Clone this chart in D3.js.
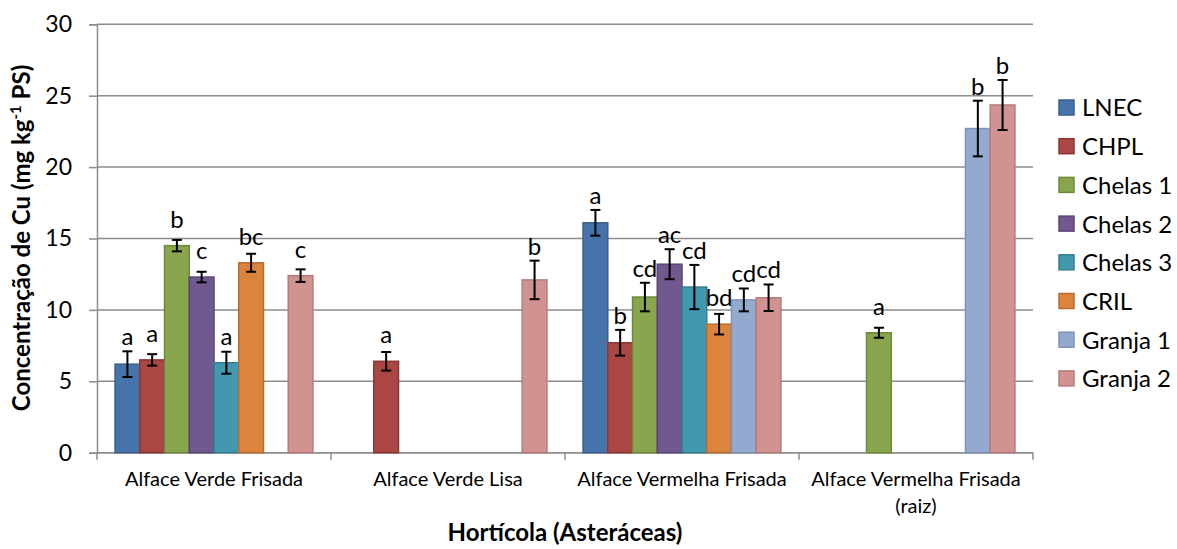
<!DOCTYPE html>
<html>
<head>
<meta charset="utf-8">
<script src="https://cdn.jsdelivr.net/npm/d3@7"></script>
<style>
    body { margin: 0; background: #ffffff; }
    svg { display: block; font-family: Lato, "Noto Sans", sans-serif; }
</style>
</head>
<body>
<div id="chart"></div>
<script>
// Categories (x axis) and series (legend)
const categories = ["Alface Verde Frisada", "Alface Verde Lisa", "Alface Vermelha Frisada", "Alface Vermelha Frisada|(raiz)"];
const seriesNames = ["LNEC", "CHPL", "Chelas 1", "Chelas 2", "Chelas 3", "CRIL", "Granja 1", "Granja 2"];

// Mean values per series (null = no sample)
const valLNEC    = [6.2, null, 16.1, null];
const valCHPL    = [6.5, 6.4, 7.7, null];
const valChelas1 = [14.5, null, 10.9, 8.4];
const valChelas2 = [12.3, null, 13.2, null];
const valChelas3 = [6.3, null, 11.6, null];
const valCRIL    = [13.3, null, 9.0, null];
const valGranja1 = [null, null, 10.7, 22.7];
const valGranja2 = [12.4, 12.1, 10.85, 24.35];

// Standard deviations (error bars)
const errLNEC    = [0.9, null, 0.9, null];
const errCHPL    = [0.4, 0.65, 0.9, null];
const errChelas1 = [0.4, null, 1.0, 0.35];
const errChelas2 = [0.37, null, 1.05, null];
const errChelas3 = [0.77, null, 1.55, null];
const errCRIL    = [0.63, null, 0.72, null];
const errGranja1 = [null, null, 0.8, 1.95];
const errGranja2 = [0.44, 1.35, 0.93, 1.75];

// Significance letters
const letLNEC    = ["a", null, "a", null];
const letCHPL    = ["a", "a", "b", null];
const letChelas1 = ["b", null, "cd", "a"];
const letChelas2 = ["c", null, "ac", null];
const letChelas3 = ["a", null, "cd", null];
const letCRIL    = ["bc", null, "bd", null];
const letGranja1 = [null, null, "cd", "b"];
const letGranja2 = ["c", "b", "cd", "b"];

// Legal limit line
const limitValue = 20;
const yTicks = [0, 5, 10, 15, 20, 25, 30];

const values = [valLNEC, valCHPL, valChelas1, valChelas2, valChelas3, valCRIL, valGranja1, valGranja2];
const errors = [errLNEC, errCHPL, errChelas1, errChelas2, errChelas3, errCRIL, errGranja1, errGranja2];
const letters = [letLNEC, letCHPL, letChelas1, letChelas2, letChelas3, letCRIL, letGranja1, letGranja2];

// Colours (fill, border) per series
const fills   = ["#4674aa", "#aa4643", "#89a54e", "#71588f", "#4198af", "#db843d", "#93a9cf", "#d19392"];
const strokes = ["#3a5f8d", "#8a3734", "#6c8a39", "#5a4573", "#327f93", "#b86c2f", "#7f93b5", "#b47c7b"];

// Flatten to records
const records = [];
seriesNames.forEach((s, si) => {
    categories.forEach((c, ci) => {
        if (values[si][ci] != null) {
            records.push({ series: s, si: si, category: c, value: values[si][ci], err: errors[si][ci], letter: letters[si][ci] });
        }
    });
});

const width = 1177, height = 549;
const margin = { top: 24.3, right: 144, bottom: 96.3, left: 97 };
const innerW = width - margin.left - margin.right;
const innerH = height - margin.top - margin.bottom;

const svg = d3.select("#chart").append("svg")
    .attr("width", width)
    .attr("height", height);

// Shadow for the limit line
const defs = svg.append("defs");
const filter = defs.append("filter").attr("id", "shadow")
    .attr("x", "-5%").attr("y", "-200%").attr("width", "110%").attr("height", "500%");
filter.append("feDropShadow")
    .attr("dx", 1).attr("dy", 3).attr("stdDeviation", 2)
    .attr("flood-color", "#000").attr("flood-opacity", 0.35);

const g = svg.append("g").attr("transform", `translate(${margin.left},${margin.top})`);

// Scales
const x0 = d3.scaleBand().domain(categories).range([0, innerW]).paddingInner(0).paddingOuter(0);
const x1 = d3.scaleBand().domain(seriesNames).range([0, x0.bandwidth()]).paddingInner(0).paddingOuter(0.73);
const y = d3.scaleLinear().domain([0, 30]).range([innerH, 0]);

// Horizontal gridlines
g.append("g")
    .selectAll("line")
    .data(yTicks)
    .enter().append("line")
    .attr("x1", 0).attr("x2", innerW)
    .attr("y1", d => y(d)).attr("y2", d => y(d))
    .attr("stroke", "#8c8c8c")
    .attr("stroke-width", 1.5);

// Y axis
const yAxis = g.append("g")
    .call(d3.axisLeft(y).tickValues(yTicks).tickSize(8).tickPadding(17));
yAxis.select(".domain").attr("stroke", "#8c8c8c").attr("stroke-width", 1.5);
yAxis.selectAll(".tick line").attr("stroke", "#8c8c8c").attr("stroke-width", 1.5);
yAxis.selectAll(".tick text")
    .attr("fill", "#000")
    .style("font-size", "23px")
    .style("font-family", "Lato, sans-serif");

// X axis (category boundaries as ticks)
const xAxisG = g.append("g").attr("transform", `translate(0,${innerH})`);
xAxisG.append("line")
    .attr("x1", 0).attr("x2", innerW)
    .attr("stroke", "#8c8c8c").attr("stroke-width", 1.5);
xAxisG.selectAll(".sep")
    .data(d3.range(categories.length + 1))
    .enter().append("line")
    .attr("class", "sep")
    .attr("x1", d => d * x0.step()).attr("x2", d => d * x0.step())
    .attr("y1", 0).attr("y2", 7)
    .attr("stroke", "#8c8c8c").attr("stroke-width", 1.5);

// Category labels (some wrap on two lines)
const catLabel = xAxisG.selectAll(".cat")
    .data(categories)
    .enter().append("text")
    .attr("class", "cat")
    .attr("text-anchor", "middle")
    .attr("x", d => x0(d) + x0.bandwidth() / 2)
    .attr("y", 33)
    .style("font-size", "20px")
    .attr("fill", "#000");
catLabel.each(function (d) {
    const parts = d.split("|");
    const t = d3.select(this);
    parts.forEach((p, i) => {
        t.append("tspan")
            .attr("x", x0(d) + x0.bandwidth() / 2)
            .attr("dy", i === 0 ? 0 : 27)
            .text(p);
    });
});

// Bars
g.append("g")
    .selectAll("rect")
    .data(records)
    .enter().append("rect")
    .attr("x", d => x0(d.category) + x1(d.series))
    .attr("y", d => y(d.value))
    .attr("width", x1.bandwidth())
    .attr("height", d => innerH - y(d.value))
    .attr("fill", d => fills[d.si])
    .attr("stroke", d => strokes[d.si])
    .attr("stroke-width", 1.5);

// Error bars
const eb = g.append("g")
    .selectAll("g")
    .data(records.filter(d => d.err != null))
    .enter().append("g")
    .attr("stroke", "#000")
    .attr("stroke-width", 2);
const cx = d => x0(d.category) + x1(d.series) + x1.bandwidth() / 2;
eb.append("line")
    .attr("x1", cx).attr("x2", cx)
    .attr("y1", d => y(d.value + d.err)).attr("y2", d => y(d.value - d.err));
eb.append("line")
    .attr("x1", d => cx(d) - 5).attr("x2", d => cx(d) + 5)
    .attr("y1", d => y(d.value + d.err)).attr("y2", d => y(d.value + d.err));
eb.append("line")
    .attr("x1", d => cx(d) - 5).attr("x2", d => cx(d) + 5)
    .attr("y1", d => y(d.value - d.err)).attr("y2", d => y(d.value - d.err));

// Significance letters: above bar, pushed up to clear the error bar
g.append("g")
    .selectAll("text")
    .data(records.filter(d => d.letter))
    .enter().append("text")
    .attr("text-anchor", "middle")
    .attr("x", cx)
    .attr("y", d => Math.min(y(d.value) - 18, y(d.value + (d.err || 0)) - 6))
    .style("font-size", "24px")
    .attr("fill", "#000")
    .text(d => d.letter);

// Limit line (drawn over the bars)
g.append("line")
    .attr("x1", 2).attr("x2", innerW)
    .attr("y1", y(limitValue)).attr("y2", y(limitValue))
    .attr("stroke", "#c0504d")
    .attr("stroke-width", 4.5)
    .attr("filter", "url(#shadow)");

// Y axis title
svg.append("text")
    .attr("transform", "translate(30,238) rotate(-90)")
    .attr("text-anchor", "middle")
    .style("font-size", "24px")
    .style("font-weight", "bold")
    .attr("fill", "#000")
    .call(t => {
        t.append("tspan").text("Concentração de Cu (mg kg");
        t.append("tspan").attr("baseline-shift", "super").style("font-size", "15px").text("-1");
        t.append("tspan").text(" PS)");
    });

// X axis title
svg.append("text")
    .attr("x", margin.left + innerW / 2)
    .attr("y", 541)
    .attr("text-anchor", "middle")
    .style("font-size", "24px")
    .style("font-weight", "bold")
    .attr("fill", "#000")
    .text("Hortícola (Asteráceas)");

// Legend
const legend = svg.append("g")
    .attr("transform", "translate(1059,100)")
    .selectAll("g")
    .data(seriesNames)
    .enter().append("g")
    .attr("transform", (d, i) => `translate(0,${i * 38.7})`);
legend.append("rect")
    .attr("width", 15).attr("height", 15)
    .attr("fill", (d, i) => fills[i])
    .attr("stroke", (d, i) => strokes[i])
    .attr("stroke-width", 1.5);
legend.append("text")
    .attr("x", 23)
    .attr("y", 8)
    .attr("dy", "0.35em")
    .style("font-size", "24px")
    .attr("fill", "#000")
    .text(d => d);
</script>
</body>
</html>
